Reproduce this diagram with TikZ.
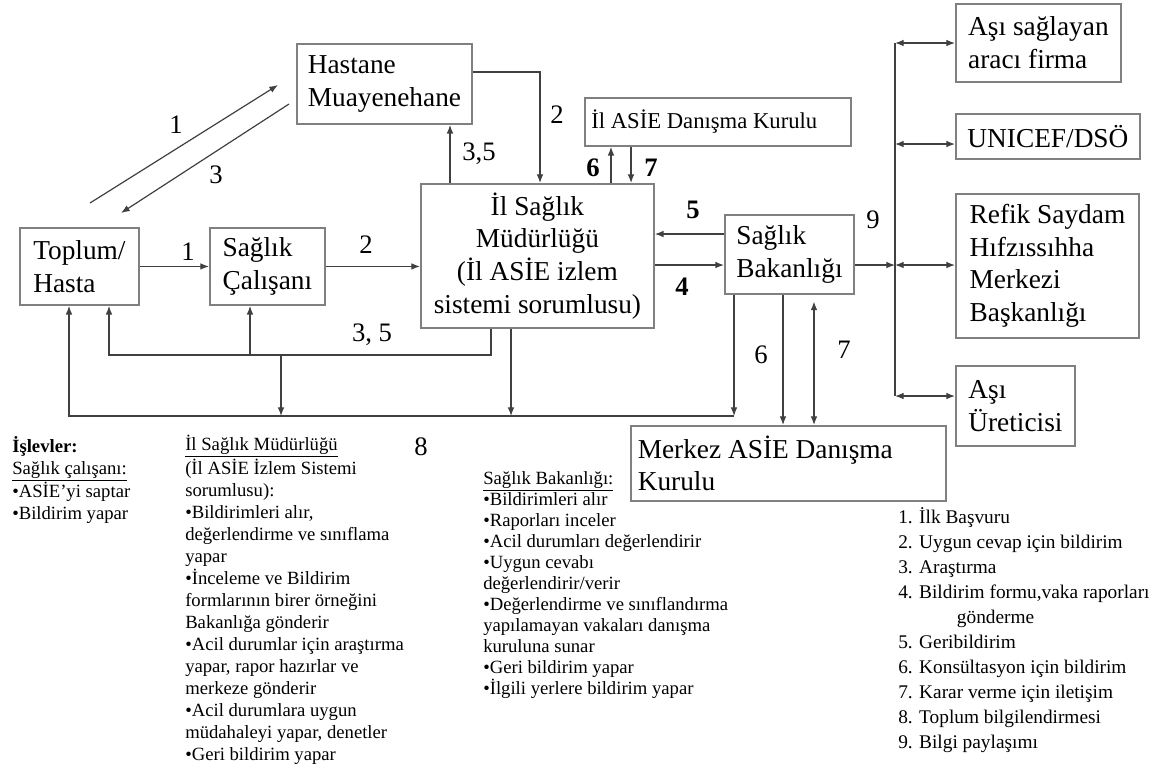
\documentclass[tikz,border=0pt]{standalone}
\usepackage{fontspec}
\setmainfont{Liberation Serif}
\usetikzlibrary{arrows.meta}

\begin{document}
\begin{tikzpicture}[
    x=0.75pt, y=-0.75pt,
    box/.style={
        draw=black!50, line width=1.4pt, anchor=north west,
        align=left, inner sep=3pt,
        font=\fontsize{20.5}{24.5}\selectfont
    },
    arrow/.style={-{Latex[length=6.5pt,width=5pt]}, line width=0.9pt, black!75},
    darrow/.style={{Latex[length=6.5pt,width=5pt]}-{Latex[length=6.5pt,width=5pt]},
                   line width=0.9pt, black!75},
    bus/.style={line width=0.9pt, black!75},
    % flow numbers on the connectors
    num/.style={font=\fontsize{20}{20}\selectfont, inner sep=0pt},
    % text blocks under the chart
    note/.style={anchor=north west, align=left, inner sep=0pt,
                 font=\fontsize{14}{16.5}\selectfont},
]
    \useasboundingbox (0,0) rectangle (1166,769);

    % boxes
    \node[box, minimum width=131.25pt, minimum height=60pt] (hastane) at (296,43) {Hastane\\Muayenehane};
    \node[box, minimum width=89.25pt, minimum height=57.75pt] (toplum) at (19,227) {Toplum/\\Hasta};
    \node[box, minimum width=86.25pt, minimum height=57.75pt] (calisan) at (209,227) {Sağlık\\Çalışanı};
    \node[box, align=center, minimum width=174.75pt, minimum height=108pt] (ilsm) at (420,183)
        {İl Sağlık\\Müdürlüğü\\(İl ASİE izlem\\sistemi sorumlusu)};
    \node[box, font=\fontsize{17}{20}\selectfont, align=flush left, text width=190pt,
          minimum width=199.5pt, minimum height=36pt] (ilkurul) at (584,97) {İl ASİE Danışma Kurulu};
    \node[box, minimum width=96.75pt, minimum height=59.25pt] (bakanlik) at (724,214) {Sağlık\\Bakanlığı};
    \node[box, align=flush left, text width=226pt, minimum width=236.25pt, minimum height=56pt] (merkez) at (630,425)
        {Merkez ASİE Danışma\\Kurulu};

    % partners on the right
    \node[box, minimum width=123.75pt, minimum height=58.5pt] (asi) at (955,3) {Aşı sağlayan\\aracı firma};
    \node[box, minimum width=138pt, minimum height=33.75pt] (unicef) at (955,113) {UNICEF/DSÖ};
    \node[box, minimum width=137.25pt, minimum height=108pt] (refik) at (955,193)
        {Refik Saydam\\Hıfzıssıhha\\Merkezi\\Başkanlığı};
    \node[box, minimum width=89.25pt, minimum height=60pt] (uretici) at (955,365) {Aşı\\Üreticisi};

    % first contact
    \draw[arrow] ([shift={(71,-24)}]toplum.north west) -- ([shift={(-18,42)}]hastane.north west);
    \draw[arrow] ([shift={(-7,61)}]hastane.north west) -- ([shift={(102,-14)}]toplum.north west);
    \draw[arrow] (toplum) -- (calisan);
    \draw[arrow] (calisan.east) -- (calisan.east -| ilsm.west);

    % hastane <-> il
    \coordinate (h2) at (540,72);
    \coordinate (u35) at (450,150);
    \draw[arrow] (hastane.east |- h2) -- (h2) -- (h2 |- ilsm.north);
    \draw[arrow] (u35 |- ilsm.north) -- (u35 |- hastane.south);

    % il <-> il kurul
    \coordinate (k6) at (611,160);
    \coordinate (k7) at (631,160);
    \draw[arrow] (k6 |- ilsm.north) -- (k6 |- ilkurul.south);
    \draw[arrow] (k7 |- ilkurul.south) -- (k7 |- ilsm.north);

    % il <-> bakanlik
    \coordinate (b5) at (690,234);
    \coordinate (b4) at (690,265);
    \draw[arrow] (b5 -| bakanlik.west) -- (b5 -| ilsm.east);
    \draw[arrow] (b4 -| ilsm.east) -- (b4 -| bakanlik.west);

    % information sharing (9)
    \coordinate (hub) at (895,265);
    \draw[arrow] (hub -| bakanlik.east) -- (hub);
    \coordinate (htop) at (895,43);
    \coordinate (hbot) at (895,396);
    \draw[bus] (htop) -- (hbot);
    \foreach \b/\y in {asi/43, unicef/144, refik/265, uretici/396} {
        \coordinate (r\b) at (895,\y);
        \draw[darrow] (r\b) -- (r\b -| \b.west);
    }

    % bakanlik <-> merkez kurul
    \coordinate (m6) at (783,360);
    \coordinate (m7) at (814,360);
    \draw[arrow] (m6 |- bakanlik.south) -- (m6 |- merkez.north);
    \draw[darrow, shorten <=5pt] (m7 |- bakanlik.south) -- (m7 |- merkez.north);

    % feedback 3,5
    \coordinate (f35r) at (491,355);
    \coordinate (f35l) at (109,355);
    \coordinate (f35m) at (250,355);
    \draw[arrow] (f35r |- ilsm.south) -- (f35r) -- (f35l) -- (f35l |- toplum.south);
    \draw[arrow] (f35m) -- (f35m |- calisan.south);

    % community information (8)
    \coordinate (b8r) at (734,416);
    \coordinate (b8l) at (69,416);
    \coordinate (b8a) at (281,416);
    \coordinate (b8b) at (511,416);
    \draw[arrow] (b8r |- bakanlik.south) -- (b8r);
    \draw[arrow] (b8r) -- (b8l) -- (b8l |- toplum.south);
    \draw[arrow] (b8a |- f35l) -- (b8a);
    \draw[arrow] (b8b |- ilsm.south) -- (b8b);

    % numbers
    \node[num] (n1a) at (176,125) {1};
    \node[num] (n3a) at (216,175) {3};
    \node[num] (n2a) at (557,115) {2};
    \node[num] (n35a) at (479,154) {3,5};
    \node[num] (n1b) at (188,252) {1};
    \node[num] (n2b) at (366,245) {2};
    \node[num] (n35b) at (372,335) {3, 5};
    \node[num, font=\fontsize{20}{20}\selectfont\bfseries] (n6a) at (593,168) {6};
    \node[num, font=\fontsize{20}{20}\selectfont\bfseries] (n7a) at (651,168) {7};
    \node[num, font=\fontsize{20}{20}\selectfont\bfseries] (n5) at (693,210) {5};
    \node[num, font=\fontsize{20}{20}\selectfont\bfseries] (n4) at (682,287) {4};
    \node[num] (n9) at (873,220) {9};
    \node[num] (n6b) at (761,355) {6};
    \node[num] (n7b) at (844,350) {7};
    \node[num] (n8) at (421,447) {8};

    % notes
    \node[note] (islev) at (12,436) {\textbf{İşlevler:}\\\underline{Sağlık çalışanı:}\\•ASİE’yi saptar\\•Bildirim yapar};
    \node[note] (ilnot) at (185,435) {\underline{İl Sağlık Müdürlüğü}\\(İl ASİE İzlem Sistemi\\sorumlusu):\\
        •Bildirimleri alır,\\değerlendirme ve sınıflama\\yapar\\•İnceleme ve Bildirim\\
        formlarının birer örneğini\\Bakanlığa gönderir\\•Acil durumlar için araştırma\\
        yapar, rapor hazırlar ve\\merkeze gönderir\\•Acil durumlara uygun\\
        müdahaleyi yapar, denetler\\•Geri bildirim yapar};
    \node[note, font=\fontsize{14}{15.8}\selectfont] (baknot) at (483,471) {\underline{Sağlık Bakanlığı:}\\
        •Bildirimleri alır\\•Raporları inceler\\•Acil durumları değerlendirir\\•Uygun cevabı\\
        değerlendirir/verir\\•Değerlendirme ve sınıflandırma\\yapılamayan vakaları danışma\\
        kuruluna sunar\\•Geri bildirim yapar\\•İlgili yerlere bildirim yapar};
    \node[note, font=\fontsize{14.5}{18.75}\selectfont] (legend) at (898,507) {1. İlk Başvuru\\
        2. Uygun cevap için bildirim\\3. Araştırma\\4. Bildirim formu,vaka raporları\\
        \hspace*{44pt}gönderme\\5. Geribildirim\\6. Konsültasyon için bildirim\\
        7. Karar verme için iletişim\\8. Toplum bilgilendirmesi\\9. Bilgi paylaşımı};
\end{tikzpicture}
\end{document}
